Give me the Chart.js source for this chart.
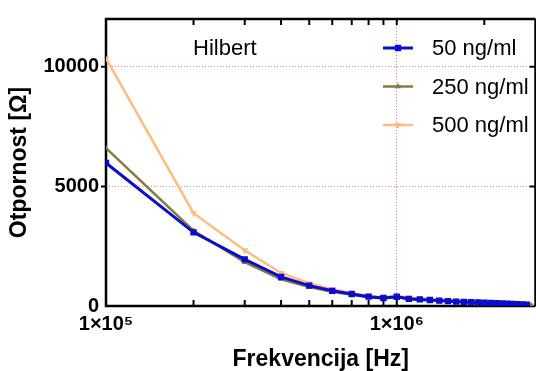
<!DOCTYPE html>
<html>
<head>
<meta charset="utf-8">
<script src="https://cdn.jsdelivr.net/npm/chart.js@4.4.1/dist/chart.umd.min.js"></script>
<style>
  html, body { margin: 0; padding: 0; background: #fff; overflow: hidden; }
  #wrap { width: 536px; height: 371px; overflow: hidden; }
  canvas { display: block; }
</style>
</head>
<body>
<div id="wrap"><canvas id="chart" width="540" height="371"></canvas></div>
<script>
// frequencies in Hz (1e5 .. 2.9e6 step 1e5)
const freqs = [
  1e5, 2e5, 3e5, 4e5, 5e5, 6e5, 7e5, 8e5, 9e5, 1e6,
  1.1e6, 1.2e6, 1.3e6, 1.4e6, 1.5e6, 1.6e6, 1.7e6, 1.8e6, 1.9e6, 2e6,
  2.1e6, 2.2e6, 2.3e6, 2.4e6, 2.5e6, 2.6e6, 2.7e6, 2.8e6, 2.9e6
];

// resistance [Ohm]
const conc50 = [
  5980, 3080, 1950, 1215, 850, 635, 500, 390, 335, 385,
  300, 275, 250, 225, 205, 185, 170, 160, 150, 140,
  130, 120, 110, 100, 90, 80, 68, 55
];
const conc250 = [
  6600, 3150, 1830, 1120, 790, 600, 470, 365, 315, 375,
  285, 262, 238, 215, 195, 178, 163, 152, 142, 132,
  122, 112, 102, 92, 82, 72, 60, 47, 32
];
const conc500 = [
  10350, 3880, 2330, 1380, 950, 700, 540, 425, 370, 430,
  340, 312, 285, 260, 238, 218, 200, 185, 172, 160,
  148, 136, 124, 112, 100, 88, 74, 55, 20
];

const seriesLabels = ["50 ng/ml", "250 ng/ml", "500 ng/ml"];
const seriesColors = ["#0c0ccc", "#887b3b", "#ffbc80"];

const yTicks = [0, 5000, 10000];
const xMajor = [1e5, 1e6];
const xMinor = [2e5, 3e5, 4e5, 5e5, 6e5, 7e5, 8e5, 9e5, 2e6];
const xTickText = { 100000: "1×10⁵", 1000000: "1×10⁶" };

const gridColor = "#d970ee";
const FONT = "'Liberation Sans', Arial, sans-serif";
Chart.defaults.font.family = FONT;
Chart.defaults.color = "#000";

const toPoints = (vals) => vals.map((v, i) => ({ x: freqs[i], y: v }));

// axes frame with inward ticks, like the original plot
const framePlugin = {
  id: "frame",
  beforeDatasetsDraw(chart) {
    const { ctx, chartArea: a, scales } = chart;
    const x = scales.x, y = scales.y;
    ctx.save();
    ctx.strokeStyle = "#000";
    ctx.lineWidth = 2.5;
    ctx.beginPath();
    ctx.moveTo(a.left, a.top); ctx.lineTo(a.left, a.bottom);
    ctx.moveTo(a.left - 1.25, a.bottom); ctx.lineTo(a.right, a.bottom);
    ctx.moveTo(a.left - 1.25, a.top); ctx.lineTo(a.right, a.top);
    ctx.moveTo(a.right, a.top); ctx.lineTo(a.right, a.bottom);
    ctx.stroke();

    ctx.lineWidth = 2;
    ctx.beginPath();
    [...xMinor, 1e6].forEach((v) => {
      const px = x.getPixelForValue(v);
      ctx.moveTo(px, a.bottom); ctx.lineTo(px, a.bottom - 6);
      ctx.moveTo(px, a.top); ctx.lineTo(px, a.top + 6);
    });
    yTicks.slice(1).forEach((v) => {
      const py = y.getPixelForValue(v);
      ctx.moveTo(a.left - 5, py); ctx.lineTo(a.left, py);
      ctx.moveTo(a.right, py); ctx.lineTo(a.right - 6, py);
    });
    ctx.stroke();
    ctx.restore();
  }
};

const legendPlugin = {
  id: "legendBox",
  afterDatasetsDraw(chart) {
    const { ctx } = chart;
    ctx.save();
    ctx.font = "22px " + FONT;
    ctx.textBaseline = "middle";
    ctx.fillStyle = "#000";
    ctx.fillText("Hilbert", 193, 49);
    chart.data.datasets.forEach((ds, i) => {
      const yy = 48 + i * 38.5;
      ctx.strokeStyle = ds.borderColor;
      ctx.lineWidth = ds.borderWidth;
      ctx.beginPath();
      ctx.moveTo(383, yy); ctx.lineTo(413, yy);
      ctx.stroke();
      ctx.fillStyle = ds.borderColor;
      Chart.helpers.drawPoint(ctx, {
        pointStyle: ds.pointStyle, rotation: ds.pointRotation || 0,
        radius: ds.pointRadius, borderWidth: 0
      }, 398, yy);
      ctx.fillStyle = "#000";
      ctx.fillText(ds.label, 432, yy + 1);
    });
    ctx.restore();
  }
};

new Chart(document.getElementById("chart"), {
  type: "line",
  data: {
    datasets: [
      {
        label: seriesLabels[0], data: toPoints(conc50),
        borderColor: seriesColors[0], backgroundColor: seriesColors[0],
        borderWidth: 3, pointStyle: "rect", pointRadius: 4.5,
        pointBorderWidth: 0, pointBackgroundColor: seriesColors[0]
      },
      {
        label: seriesLabels[1], data: toPoints(conc250),
        borderColor: seriesColors[1], backgroundColor: seriesColors[1],
        borderWidth: 2.5, pointStyle: "triangle", pointRadius: 3.5,
        pointBorderWidth: 0, pointBackgroundColor: seriesColors[1]
      },
      {
        label: seriesLabels[2], data: toPoints(conc500),
        borderColor: seriesColors[2], backgroundColor: seriesColors[2],
        borderWidth: 2.5, pointStyle: "triangle", pointRotation: 180, pointRadius: 4,
        pointBorderWidth: 0, pointBackgroundColor: seriesColors[2]
      }
    ]
  },
  options: {
    responsive: false,
    animation: false,
    devicePixelRatio: 1,
    layout: { padding: { left: 0, top: 16, right: 3, bottom: 0 } },
    plugins: { legend: { display: false }, tooltip: { enabled: false } },
    scales: {
      x: {
        type: "logarithmic",
        min: 1e5,
        max: 3e6,
        afterBuildTicks: (s) => {
          s.ticks = [...xMajor, ...xMinor].sort((a, b) => a - b).map((v) => ({ value: v }));
        },
        afterFit: (s) => { s.height = 65; },
        ticks: {
          autoSkip: false, maxRotation: 0, padding: 6,
          font: { size: 20, weight: "bold" },
          callback: (v) => xTickText[v] || ""
        },
        grid: {
          drawTicks: false, lineWidth: 1,
          color: (c) => (c.tick && Math.abs(c.tick.value - 1e6) < 1 ? gridColor : "rgba(0,0,0,0)")
        },
        border: { display: false, dash: [1, 2] },
        title: {
          display: true, text: "Frekvencija [Hz]",
          font: { size: 23, weight: "bold", lineHeight: 1 },
          padding: { top: 0, bottom: 0 }
        }
      },
      y: {
        min: 0,
        max: 12000,
        afterBuildTicks: (s) => { s.ticks = yTicks.map((v) => ({ value: v })); },
        afterFit: (s) => { s.width = 106; },
        ticks: {
          padding: 7, font: { size: 20, weight: "bold" },
          callback: (v) => String(v)
        },
        grid: {
          drawTicks: false, lineWidth: 1,
          color: (c) => (c.tick && c.tick.value > 0 ? gridColor : "rgba(0,0,0,0)")
        },
        border: { display: false, dash: [1, 2] },
        title: {
          display: true, text: "Otpornost [Ω]",
          font: { size: 23, weight: "bold", lineHeight: 1 },
          padding: { top: 8, bottom: 0 }
        }
      }
    }
  },
  plugins: [framePlugin, legendPlugin]
});
</script>
</body>
</html>
